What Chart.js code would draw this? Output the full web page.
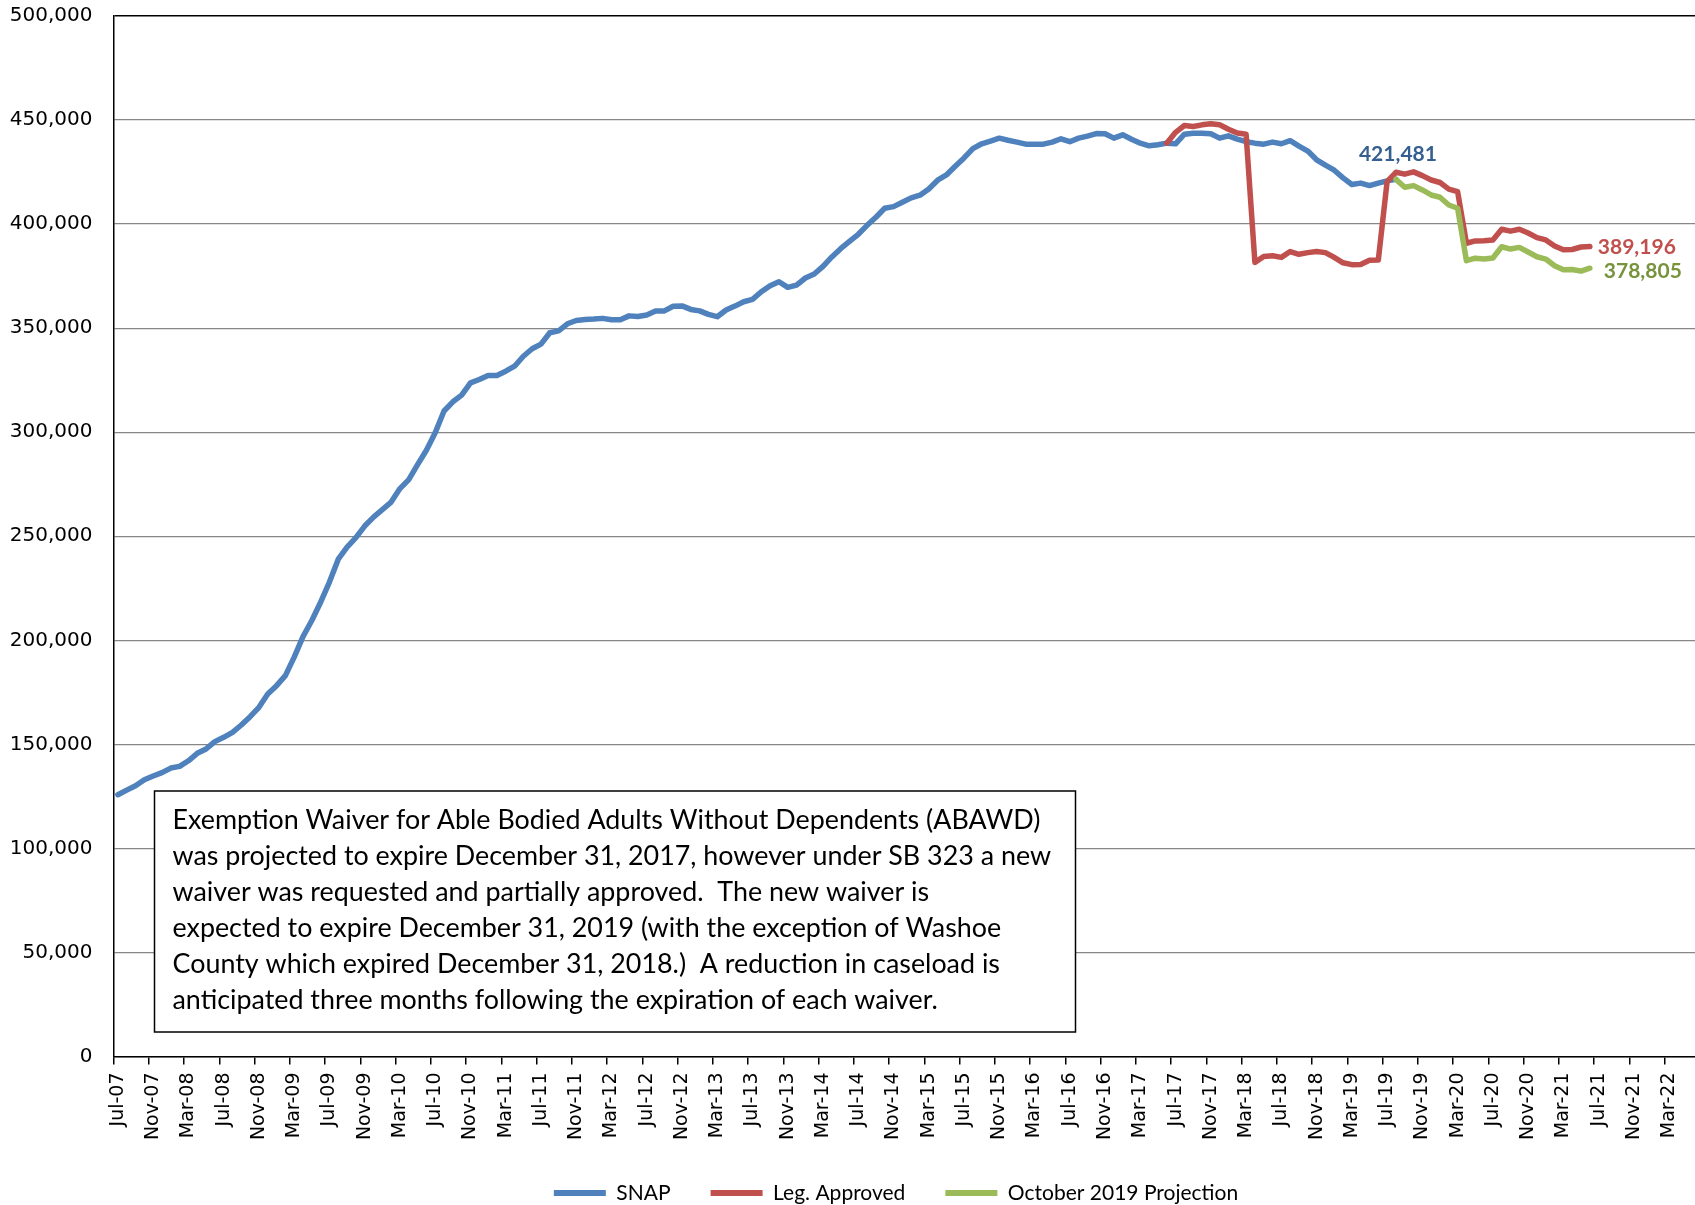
<!DOCTYPE html>
<html>
<head>
<meta charset="utf-8">
<title>SNAP Caseload</title>
<script src="https://cdn.jsdelivr.net/npm/chart.js@4.4.1/dist/chart.umd.min.js"></script>
<style>
  html, body { margin: 0; padding: 0; background: #fff; overflow: hidden; }
  #wrap { width: 1792px; height: 1205px; }
</style>
</head>
<body>
<div id="wrap"><canvas id="snapChart" width="1792" height="1205"></canvas></div>
<script>
// monthly categories Jul-07 .. Jun-22
const monthNames = ["Jul", "Aug", "Sep", "Oct", "Nov", "Dec", "Jan", "Feb", "Mar", "Apr", "May", "Jun"];
const months = [];
for (let i = 0; i < 180; i++) {
  const yr = 7 + Math.floor((i + 6) / 12);
  months.push(monthNames[i % 12] + "-" + String(yr).padStart(2, "0"));
}

const yTicks = [0, 50000, 100000, 150000, 200000, 250000, 300000, 350000, 400000, 450000, 500000];

// SNAP actuals, Jul-07 .. Aug-19
const snap = [
  125800, 128000, 130100, 133000, 134800, 136400, 138600, 139400, 142100, 145700, 147800, 151300,
  153400, 155800, 159300, 163300, 167800, 174200, 178200, 183000, 191900, 201800, 209500, 218300,
  228000, 239000, 244800, 249300, 254900, 259200, 262800, 266400, 272900, 277200, 284400, 291300,
  299700, 310200, 314600, 317800, 323700, 325300, 327300, 327300, 329300, 331700, 336500, 340100,
  342300, 347800, 348700, 352100, 353700, 354200, 354400, 354700, 354000, 354000, 355900, 355600,
  356300, 358200, 358300, 360500, 360700, 359000, 358300, 356600, 355500, 358700, 360600, 362700,
  363800, 367500, 370400, 372300, 369600, 370700, 374100, 376000, 379700, 384200, 388200, 391700,
  395100, 399400, 403300, 407600, 408400, 410500, 412600, 413900, 416900, 421100, 423600, 427800,
  431800, 436300, 438600, 439900, 441300, 440300, 439400, 438400, 438400, 438400, 439400, 441000,
  439600, 441300, 442300, 443500, 443400, 441300, 442900, 440800, 438900, 437600, 438100, 438900,
  438600, 443200, 443700, 443700, 443400, 441300, 442400, 440800, 439600, 438900, 438400, 439400,
  438600, 440100, 437500, 435100, 430900, 428300, 425900, 422200, 419000, 419700, 418500, 419700,
  420800, 421481
];

// Leg. Approved, Jun-17 .. Jun-21
const legStart = "Jun-17";
const legApproved = [
  438900, 444100, 447400, 446900, 447700, 448200, 447700, 445600, 443800, 443200,
  381600, 384400, 384800, 384000, 386800, 385500, 386300, 386800, 386300, 384000,
  381400, 380500, 380600, 382600, 382700,
  420400, 424900, 424000, 425100, 423300, 421200, 420000, 416800, 415600,
  390800, 391900, 392000, 392400, 397500, 396600, 397500, 395700, 393500, 392400,
  389500, 387700, 387800, 389000, 389196
];

// October 2019 Projection, Aug-19 .. Jun-21
const projStart = "Aug-19";
const projection = [
  421481, 417700, 418500, 416400, 414000, 412900, 409200, 407600,
  382400, 383600, 383200, 383700, 389100, 388000, 388800, 386600, 384300, 383200,
  380000, 378100, 378200, 377400, 378805
];

const noteLines = [
  "Exemption Waiver for Able Bodied Adults Without Dependents (ABAWD)",
  "was projected to expire December 31, 2017, however under SB 323 a new",
  "waiver was requested and partially approved.  The new waiver is",
  "expected to expire December 31, 2019 (with the exception of Washoe",
  "County which expired December 31, 2018.)  A reduction in caseload is",
  "anticipated three months following the expiration of each waiver."
];

function place(values, startLabel) {
  const out = new Array(months.length).fill(null);
  const s = months.indexOf(startLabel);
  values.forEach((v, i) => { out[s + i] = v; });
  return out;
}

const fmt = v => v.toLocaleString("en-US");

// end-of-series value labels
const endLabels = {
  id: "endLabels",
  afterDatasetsDraw(chart) {
    const ctx = chart.ctx;
    const specs = [
      { ds: 0, color: "#365F91", align: "center", base: "bottom", dx: 2, dy: -15 },
      { ds: 1, color: "#C0504D", align: "left", base: "middle", dx: 8, dy: 1 },
      { ds: 2, color: "#77933C", align: "left", base: "middle", dx: 14, dy: 3 }
    ];
    ctx.save();
    ctx.font = "bold 21px Lato";
    specs.forEach(s => {
      const data = chart.data.datasets[s.ds].data;
      let idx = data.length - 1;
      while (idx >= 0 && data[idx] === null) idx--;
      const pt = chart.getDatasetMeta(s.ds).data[idx];
      ctx.fillStyle = s.color;
      ctx.textAlign = s.align;
      ctx.textBaseline = s.base;
      ctx.fillText(fmt(data[idx]), pt.x + s.dx, pt.y + s.dy);
    });
    ctx.restore();
  }
};

// text box note
const noteBox = {
  id: "noteBox",
  afterDatasetsDraw(chart) {
    const ctx = chart.ctx;
    const ca = chart.chartArea;
    const x = ca.left + 41, y = 791, w = 921, h = 241;
    ctx.save();
    ctx.fillStyle = "#fff";
    ctx.fillRect(x, y, w, h);
    ctx.strokeStyle = "#000";
    ctx.lineWidth = 1.5;
    ctx.strokeRect(x, y, w, h);
    let size = 24;
    ctx.font = size + "px Lato";
    size = size * 868 / ctx.measureText(noteLines[0]).width;
    ctx.font = size.toFixed(2) + "px Lato";
    ctx.fillStyle = "#000";
    ctx.textAlign = "left";
    ctx.textBaseline = "alphabetic";
    noteLines.forEach((line, i) => {
      ctx.fillText(line, x + 18, y + 38 + i * 36);
    });
    ctx.restore();
  }
};

// centre the legend under the full (uncropped) chart width
const legendShift = {
  id: "legendShift",
  afterLayout(chart) {
    chart.legend.left += 46;
    chart.legend.right += 46;
  }
};

const ctx = document.getElementById("snapChart");
new Chart(ctx, {
  type: "line",
  data: {
    labels: months,
    datasets: [
      {
        label: "SNAP",
        data: place(snap, "Jul-07"),
        borderColor: "#4F81BD",
        backgroundColor: "#4F81BD",
        order: 3
      },
      {
        label: "Leg. Approved",
        data: place(legApproved, legStart),
        borderColor: "#C0504D",
        backgroundColor: "#C0504D",
        order: 2
      },
      {
        label: "October 2019 Projection",
        data: place(projection, projStart),
        borderColor: "#9BBB59",
        backgroundColor: "#9BBB59",
        order: 1
      }
    ]
  },
  options: {
    responsive: false,
    animation: false,
    devicePixelRatio: 1,
    layout: { padding: { top: 16, right: 92, bottom: -8.5, left: 0 } },
    elements: {
      line: { borderWidth: 5.5, tension: 0, borderJoinStyle: "round", borderCapStyle: "round" },
      point: { radius: 0, hoverRadius: 0 }
    },
    plugins: {
      tooltip: { enabled: false },
      legend: {
        position: "bottom",
        labels: {
          color: "#000",
          font: { family: "Lato", size: 21 },
          boxWidth: 52,
          boxHeight: 6,
          padding: 40,
          sort: (a, b) => a.datasetIndex - b.datasetIndex,
          generateLabels: chart =>
            Chart.defaults.plugins.legend.labels.generateLabels(chart).map(l =>
              Object.assign(l, { fillStyle: l.strokeStyle, lineWidth: 0 }))
        }
      }
    },
    scales: {
      x: {
        offset: true,
        grid: {
          offset: true,
          drawOnChartArea: false,
          tickLength: 8,
          lineWidth: 1.5,
          color: c => (c.index % 4 === 0 ? "#000" : "rgba(0,0,0,0)")
        },
        border: { color: "#000", width: 1.5 },
        ticks: {
          autoSkip: false,
          minRotation: 90,
          maxRotation: 90,
          padding: 8,
          color: "#000",
          font: { family: "DejaVu Sans", size: 19 },
          callback: (v, i) => (i % 4 === 0 ? months[i] : "")
        },
        afterFit: s => { s.height = 86; }
      },
      y: {
        min: 0,
        max: 500000,
        afterBuildTicks: s => { s.ticks = yTicks.map(v => ({ value: v })); },
        grid: {
          tickLength: 19,
          tickColor: "rgba(0,0,0,0)",
          color: c => (c.tick.value === 500000 ? "#000" : "#878787"),
          lineWidth: c => (c.tick.value === 500000 ? 1.5 : 1.2)
        },
        border: { color: "#000", width: 1.5 },
        ticks: {
          padding: 2,
          color: "#000",
          font: { family: "DejaVu Sans", size: 20 },
          callback: v => fmt(v)
        },
        afterFit: s => { s.width = 113.5; }
      }
    }
  },
  plugins: [endLabels, noteBox, legendShift]
});
</script>
</body>
</html>
